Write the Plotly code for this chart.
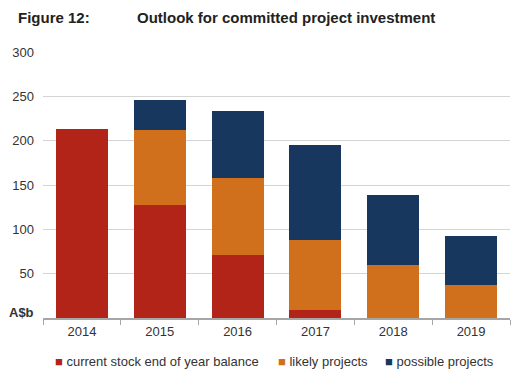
import plotly.graph_objects as go

years = ["2014", "2015", "2016", "2017", "2018", "2019"]
current_stock = [213, 128, 71, 9, 0, 0]
likely = [0, 84, 87, 79, 60, 37]
possible = [0, 34, 75, 107, 79, 56]
y_ticks = [0, 50, 100, 150, 200, 250, 300]
y_tick_text = ["", "50", "100", "150", "200", "250", "300"]
unit_label = "A$b"

series = [
    ("current stock end of year balance", current_stock, "#B22418"),
    ("likely projects", likely, "#D0701C"),
    ("possible projects", possible, "#17375E"),
]
legend_x = [53, 276, 383]  # page px, left edge of each legend entry

OFF = 8  # default page body margin
W, H = 529 - OFF, 373 - OFF
L, T = 43 - OFF, 52 - OFF
R = W - (510 - OFF)
B = H - (318 - OFF)
pw, ph = W - L - R, H - T - B

def px(x):  # page px -> paper
    return (x - OFF - L) / pw

def py(y):
    return (H - B - (y - OFF)) / ph

fig = go.Figure()
for name, vals, col in series:
    fig.add_trace(go.Bar(x=years, y=vals, name=name, marker=dict(color=col, line=dict(width=0)),
                         width=0.67, showlegend=False))

annotations = [
    dict(text="<b>Figure 12:</b>", xref="paper", yref="paper", x=px(16), y=py(18), xanchor="left",
         yanchor="middle", showarrow=False, font=dict(size=15, color="#222222")),
    dict(text="<b>Outlook for committed project investment</b>", xref="paper", yref="paper",
         x=px(135), y=py(18), xanchor="left", yanchor="middle", showarrow=False,
         font=dict(size=15, color="#222222")),
    dict(text=f"<b>{unit_label}</b>", xref="paper", yref="paper", x=px(36), y=py(312),
         xanchor="right", yanchor="middle", showarrow=False, font=dict(size=13, color="#333333")),
]
for (name, vals, col), lx in zip(series, legend_x):
    annotations.append(dict(
        text=f"<span style='color:{col}'>■</span> {name}", xref="paper", yref="paper",
        x=px(lx), y=py(362), xanchor="left", yanchor="middle", showarrow=False,
        font=dict(size=13, color="#333333")))

fig.update_layout(
    barmode="stack",
    width=W, height=H,
    margin=dict(l=L, r=R, t=T, b=B),
    plot_bgcolor="white", paper_bgcolor="white",
    font=dict(family="Liberation Sans, Arial", size=13, color="#333333"),
    showlegend=False,
    annotations=annotations,
)
fig.update_xaxes(showline=True, linecolor="#a6a6a6", linewidth=2, ticks="outside", tickson="boundaries",
                 ticklen=5, tickcolor="#a6a6a6", tickfont=dict(size=13, color="#333333"), showgrid=False,
                 automargin=False)
fig.update_yaxes(range=[0, 300], tickvals=y_ticks, ticktext=y_tick_text, showgrid=True, gridcolor="#d4d4d4",
                 gridwidth=1, zeroline=False, showline=False, ticks="", tickfont=dict(size=13, color="#333333"),
                 ticklabelstandoff=8, automargin=False)

fig.write_html("out.html")
